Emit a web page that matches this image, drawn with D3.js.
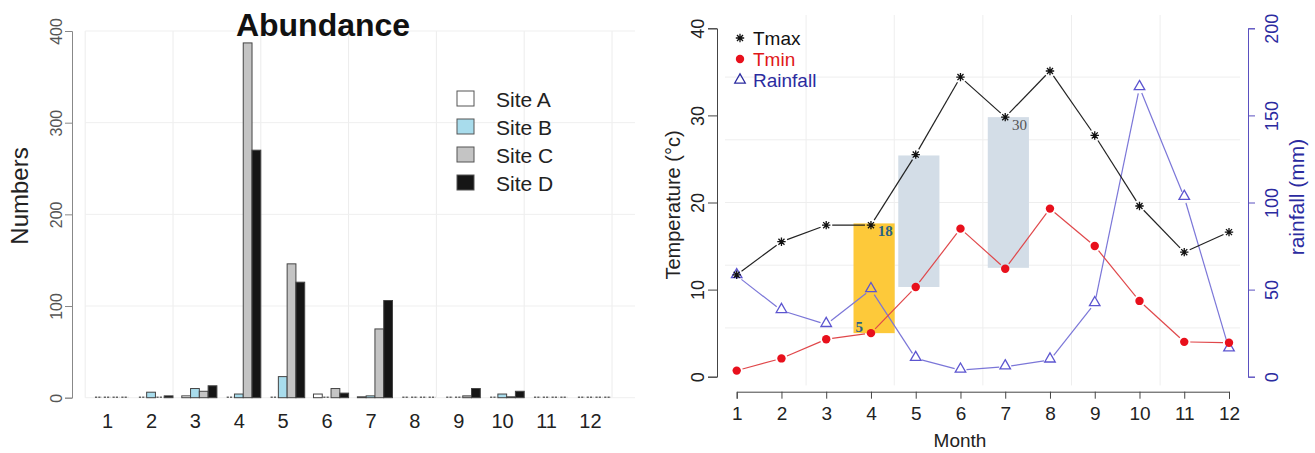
<!DOCTYPE html>
<html><head><meta charset="utf-8">
<script src="https://cdn.jsdelivr.net/npm/d3@7"></script>
<style>body{margin:0;background:#fff}svg{display:block;font-family:"Liberation Sans",Arial,sans-serif}</style>
</head><body><svg id="c" width="1315" height="453"></svg>
<script>
// ---------- data ----------
const months = [1,2,3,4,5,6,7,8,9,10,11,12];
const sites = ["Site A","Site B","Site C","Site D"];
const siteA = [0,0,2,0,0,4,1,0,0,0,0,0];
const siteB = [0,6,10,4,23,0,2,0,0,4,0,0];
const siteC = [0,0,7,387,146,10,75,0,2,1,0,0];
const siteD = [0,2,13,270,126,5,106,0,10,7,0,0];
const abundTicks = [0,100,200,300,400];

const tmax = [11.7,15.5,17.4,17.4,25.5,34.4,29.8,35.1,27.7,19.6,14.3,16.6];
const tmin = [0.7,2.1,4.3,5.0,10.3,17.0,12.4,19.3,15.0,8.7,4.0,3.9];
const rainfall = [58,38,30,50,10.5,3.8,5.7,9.6,42,166,103,16];
const tempTicks = [0,10,20,30,40];
const rainTicks = [0,50,100,150,200];
const hlMonths = [4,5,7];
const hlLow = [5,10.3,12.5];
const hlHigh = [17.6,25.4,29.8];
const hlTopLabel = ["18","","30"];
const hlBottomLabel = ["5","",""];

const svg = d3.select("#c");

// ---------- left chart: abundance ----------
const siteVals = [siteA,siteB,siteC,siteD];
const siteFill = ["#ffffff","#a8dcec","#c4c4c4","#151515"];
const unit = 8.78, x0L = 85.2;
const xL = d3.scaleBand().domain(months).range([x0L, x0L+61*unit]).paddingInner(0.2).paddingOuter(0.2);
const xS = d3.scaleBand().domain(sites).range([0, xL.bandwidth()]);
const yL = d3.scaleLinear().domain([0,400]).range([397.7,31]);
const gridU = d3.scaleLinear().domain([0,60]).range([x0L, x0L+60*unit]);

const gL = svg.append("g");
gL.selectAll(".vg").data(d3.range(0,61,10)).join("line")
  .attr("x1",d=>gridU(d)).attr("x2",d=>gridU(d)).attr("y1",yL(400)).attr("y2",yL(0))
  .attr("stroke","#ececec").attr("stroke-width",1);
gL.selectAll(".hg").data(abundTicks).join("line")
  .attr("x1",x0L).attr("x2",635).attr("y1",d=>yL(d)).attr("y2",d=>yL(d))
  .attr("stroke","#efefef").attr("stroke-width",1);
const yAxL = d3.axisLeft(yL).tickValues(abundTicks).tickSize(7).tickPadding(4);
const gyL = gL.append("g").attr("transform","translate(72,0)").call(yAxL);
gyL.select(".domain").attr("stroke","#888");
gyL.selectAll(".tick line").attr("stroke","#888");
gyL.selectAll(".tick text").attr("font-size",16).attr("fill","#555")
  .attr("transform","rotate(-90,-16,0)").attr("text-anchor","middle").attr("x",-16).attr("dy","0.35em");
months.forEach((m,i)=>{
  sites.forEach((s,j)=>{
    const v = siteVals[j][i];
    const bx = xL(m)+xS(s);
    if(v===0){
      gL.append("line").attr("x1",bx+1).attr("x2",bx+xS.bandwidth()-1)
        .attr("y1",yL(0)-0.5).attr("y2",yL(0)-0.5)
        .attr("stroke","#666").attr("stroke-width",1.6).attr("stroke-dasharray","2.2,1.1");
    } else {
      gL.append("rect").attr("x",bx).attr("width",xS.bandwidth())
        .attr("y",yL(v)).attr("height",yL(0)-yL(v))
        .attr("fill",siteFill[j]).attr("stroke","#444").attr("stroke-width",1);
    }
  });
});
gL.selectAll(".xl").data(months).join("text")
  .attr("x",d=>xL(d)+xL.bandwidth()/2-4).attr("y",428)
  .attr("text-anchor","middle").attr("font-size",20).attr("fill","#222").text(d=>d);
gL.append("text").attr("x",323).attr("y",36).attr("text-anchor","middle")
  .attr("font-size",32).attr("font-weight","bold").attr("fill","#111").text("Abundance");
gL.append("text").attr("transform","translate(28,196) rotate(-90)").attr("text-anchor","middle")
  .attr("font-size",24).attr("fill","#222").text("Numbers");
const lg = gL.append("g");
sites.forEach((s,j)=>{
  const cy = 99 + j*28;
  lg.append("rect").attr("x",457).attr("y",cy-8).attr("width",17).attr("height",15)
    .attr("fill",siteFill[j]).attr("stroke","#555");
  lg.append("text").attr("x",496).attr("y",cy).attr("dy","0.36em").attr("font-size",21)
    .attr("fill","#222").text(s);
});

// ---------- right chart: climate ----------
const xR = d3.scaleLinear().domain([1,12]).range([736.7,1229]);
const yT = d3.scaleLinear().domain([0,40]).range([376.7,28.3]);
const yR = d3.scaleLinear().domain([0,200]).range([376.7,28.3]);
const gR = svg.append("g");
gR.selectAll(".vg").data([2.55,4.52,6.5,8.48,10.46]).join("line")
  .attr("x1",d=>xR(d)).attr("x2",d=>xR(d)).attr("y1",15).attr("y2",yT(-1))
  .attr("stroke","#eeeeee");
gR.selectAll(".hg").data(d3.range(5.6,36,7.2)).join("line")
  .attr("x1",725).attr("x2",1240).attr("y1",d=>yT(d)).attr("y2",d=>yT(d))
  .attr("stroke","#eeeeee");
const hlW = 0.92, hlOff = 0.07;
hlMonths.forEach((m,i)=>{
  gR.append("rect").attr("x",xR(m+hlOff-hlW/2)).attr("width",xR(1+hlW)-xR(1))
    .attr("y",yT(hlHigh[i])).attr("height",yT(hlLow[i])-yT(hlHigh[i]))
    .attr("fill", i===0 ? "#fdc93a" : "#d3dde7");
  if(hlTopLabel[i]) gR.append("text").attr("x",xR(m+hlOff+hlW/2)-2).attr("y",yT(hlHigh[i])+13)
    .attr("text-anchor","end").attr("font-family","'Liberation Serif',serif")
    .attr("font-size",15).attr("font-weight", i===0?"bold":"normal")
    .attr("fill", i===0?"#2a6386":"#555").text(hlTopLabel[i]);
  if(hlBottomLabel[i]) gR.append("text").attr("x",xR(m+hlOff-hlW/2)+2).attr("y",yT(hlLow[i])-1)
    .attr("font-family","'Liberation Serif',serif").attr("font-size",15).attr("font-weight","bold")
    .attr("fill","#2a6386").text(hlBottomLabel[i]);
});
const axB = d3.axisBottom(xR).tickValues(months).tickSize(7).tickPadding(8).tickFormat(d3.format("d"));
const gxR = gR.append("g").attr("transform","translate(0,391.7)").call(axB);
gxR.selectAll("path,line").attr("stroke","#444");
gxR.selectAll(".tick text").attr("font-size",19).attr("fill","#222");
const axT = d3.axisLeft(yT).tickValues(tempTicks).tickSize(9);
const gyT = gR.append("g").attr("transform","translate(717,0)").call(axT);
gyT.selectAll("path,line").attr("stroke","#444");
gyT.selectAll(".tick text").attr("font-size",18).attr("fill","#222")
  .attr("x",-19).attr("dy","0.35em").attr("text-anchor","middle").attr("transform","rotate(-90,-19,0)");
const axRr = d3.axisRight(yR).tickValues(rainTicks).tickSize(7);
const gyR = gR.append("g").attr("transform","translate(1248,0)").call(axRr);
gyR.selectAll("path,line").attr("stroke","#5a50c0");
gyR.selectAll(".tick text").attr("font-size",18).attr("fill","#2b2ba0")
  .attr("x",24).attr("dy","0.35em").attr("text-anchor","middle").attr("transform","rotate(-90,24,0)");
gR.append("text").attr("transform","translate(680,205) rotate(-90)").attr("text-anchor","middle")
  .attr("font-size",20).attr("fill","#222").text("Temperature (°c)");
gR.append("text").attr("transform","translate(1304,197) rotate(-90)").attr("text-anchor","middle")
  .attr("font-size",21).attr("fill","#2b2ba0").text("rainfall (mm)");
gR.append("text").attr("x",960).attr("y",447).attr("text-anchor","middle")
  .attr("font-size",19).attr("fill","#222").text("Month");

function series(vals, yScale, color, gap){
  const pts = months.map((m,i)=>[xR(m), yScale(vals[i])]);
  for(let i=0;i<pts.length-1;i++){
    const [ax,ay]=pts[i],[bx,by]=pts[i+1];
    const dx=bx-ax, dy=by-ay, L=Math.hypot(dx,dy);
    if(L<=2*gap) continue;
    const ux=dx/L, uy=dy/L;
    gR.append("line").attr("x1",ax+ux*gap).attr("y1",ay+uy*gap)
      .attr("x2",bx-ux*gap).attr("y2",by-uy*gap).attr("stroke",color).attr("stroke-width",1.2);
  }
  return pts;
}
// R pch=8 asterisk: plus + cross
const r8 = 4.2, d8 = r8*0.72;
const astPath = `M${-r8},0L${r8},0M0,${-r8}L0,${r8}M${-d8},${-d8}L${d8},${d8}M${-d8},${d8}L${d8},${-d8}`;
const pRain = series(rainfall, yR, "#7b76d8", 6);
const pMin = series(tmin, yT, "#e0474a", 6);
const pMax = series(tmax, yT, "#222", 6);
gR.selectAll(".tri").data(pRain).join("path")
  .attr("transform",d=>`translate(${d[0]},${d[1]-1})`)
  .attr("d",d3.symbol(d3.symbolTriangle,48)).attr("fill","none").attr("stroke","#5c55d0").attr("stroke-width",1.3);
gR.selectAll(".dot").data(pMin).join("circle")
  .attr("cx",d=>d[0]).attr("cy",d=>d[1]).attr("r",4.2).attr("fill","#e8101c");
gR.selectAll(".ast").data(pMax).join("path")
  .attr("transform",d=>`translate(${d[0]},${d[1]})`)
  .attr("d",astPath).attr("fill","none").attr("stroke","#111").attr("stroke-width",1.3);

const lgR = gR.append("g");
lgR.append("path").attr("transform","translate(740,38)").attr("d",astPath)
  .attr("fill","none").attr("stroke","#111").attr("stroke-width",1.3);
lgR.append("circle").attr("cx",740).attr("cy",59).attr("r",4.2).attr("fill","#e8101c");
lgR.append("path").attr("transform","translate(740,80)").attr("d",d3.symbol(d3.symbolTriangle,48))
  .attr("fill","none").attr("stroke","#2b2ba0").attr("stroke-width",1.3);
[["Tmax","#111",38],["Tmin","#e01818",59],["Rainfall","#2b2ba0",80]].forEach(([t,c,y])=>{
  lgR.append("text").attr("x",753).attr("y",y).attr("dy","0.36em").attr("font-size",19).attr("fill",c).text(t);
});
</script></body></html>
